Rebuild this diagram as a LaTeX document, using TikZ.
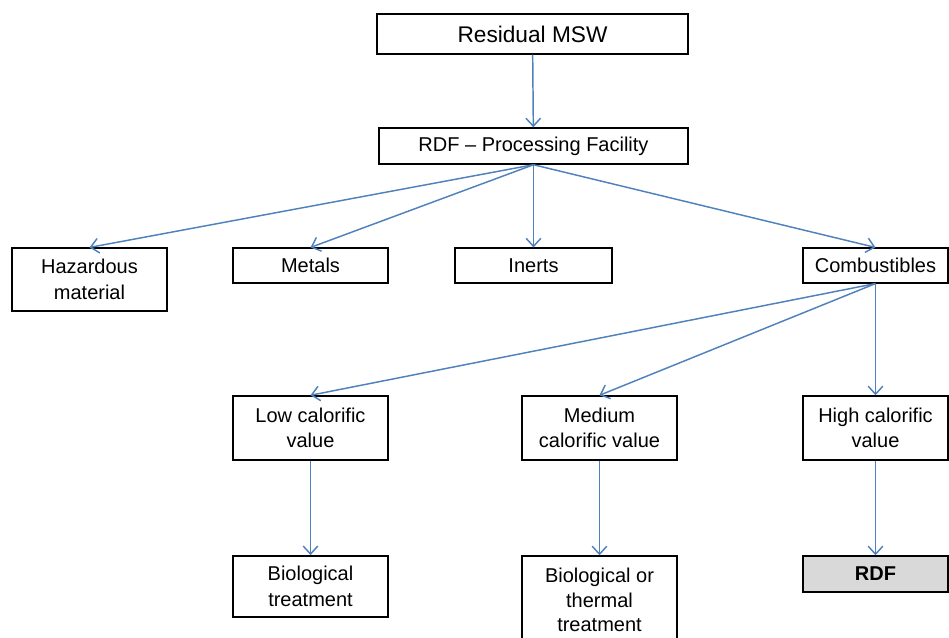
\documentclass[tikz,border=0pt]{standalone}
\usepackage{fontspec}
\setmainfont{Liberation Sans}
\usetikzlibrary{arrows.meta}

\begin{document}
\begin{tikzpicture}[x=0.75pt,y=0.75pt,yscale=-1,xscale=1,
  box/.style={draw, line width=1.1pt, align=center, inner sep=0pt, font=\fontsize{15}{19}\selectfont},
  flow/.style={draw={rgb, 255:red, 79; green, 129; blue, 189 }, line width=1.1pt, -{Straight Barb[length=6pt,width=11pt]}}]
%set diagram left start at 0, and has height of 637
\clip (0,0) rectangle (949,637);

% Text Node
\node [box, minimum width=233pt, minimum height=30pt, font=\fontsize{17}{20}\selectfont] (msw) at (532.5,34) {Residual MSW};
% Text Node
\node [box, minimum width=232pt, minimum height=27pt] (rdfpf) at (533.5,146) {RDF -- Processing Facility};

% Text Node
\node [box, minimum width=116pt, minimum height=47pt] (haz) at (89.5,279.5) {Hazardous\\material};
% Text Node
\node [box, minimum width=116pt, minimum height=26pt] (metals) at (310.5,265.5) {Metals};
% Text Node
\node [box, minimum width=118pt, minimum height=26pt] (inerts) at (533.5,265.5) {Inerts};
% Text Node
\node [box, minimum width=109pt, minimum height=26pt] (comb) at (875.5,265.5) {Combustibles};

% Text Node
\node [box, minimum width=116pt, minimum height=48pt] (low) at (310.5,428) {Low calorific\\value};
% Text Node
\node [box, minimum width=116pt, minimum height=48pt] (med) at (599.5,428) {Medium\\calorific value};
% Text Node
\node [box, minimum width=109pt, minimum height=48pt] (high) at (875.5,428) {High calorific\\value};

% Text Node
\node [box, minimum width=116pt, minimum height=46pt] (bio) at (310.5,586.5) {Biological\\treatment};
% Text Node
\node [box, minimum width=116pt, minimum height=66pt, font=\fontsize{15}{18.5}\selectfont] (bioth) at (599.5,600) {Biological or\\thermal\\treatment};
% Text Node
\node [box, minimum width=109pt, minimum height=27pt, fill={rgb, 255:red, 217; green, 217; blue, 217 }, font=\fontsize{15}{19}\selectfont\bfseries] (rdf) at (875.5,574) {RDF};

%Straight Lines
\draw [flow] (msw) -- (rdfpf);
\draw [flow] (rdfpf.south) -- (haz.north);
\draw [flow] (rdfpf.south) -- (metals.north);
\draw [flow] (rdfpf.south) -- (inerts.north);
\draw [flow] (rdfpf.south) -- (comb.north);
%Straight Lines
\draw [flow] (comb.south) -- (low.north);
\draw [flow] (comb.south) -- (med.north);
\draw [flow] (comb.south) -- (high.north);
%Straight Lines
\draw [flow] (low) -- (bio);
\draw [flow] (med) -- (bioth);
\draw [flow] (high) -- (rdf);

\end{tikzpicture}
\end{document}
